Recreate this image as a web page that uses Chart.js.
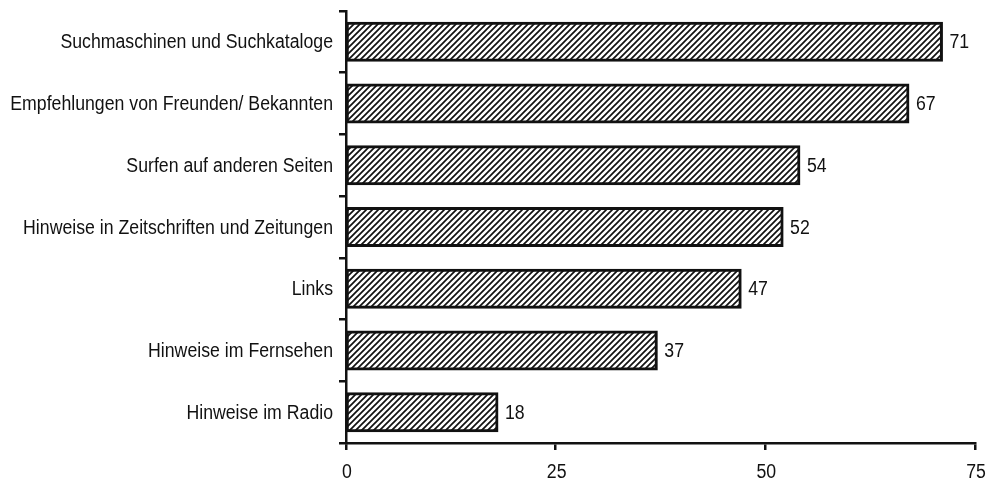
<!DOCTYPE html>
<html>
<head>
<meta charset="utf-8">
<script src="https://cdn.jsdelivr.net/npm/chart.js@4.4.1/dist/chart.umd.min.js"></script>
<style>
  html, body { margin: 0; padding: 0; background: #fff; }
  #wrap { width: 991px; height: 485px; }
</style>
</head>
<body>
<div id="wrap"><canvas id="c" width="991" height="485"></canvas></div>
<script>
const categories = [
  'Suchmaschinen und Suchkataloge',
  'Empfehlungen von Freunden/ Bekannten',
  'Surfen auf anderen Seiten',
  'Hinweise in Zeitschriften und Zeitungen',
  'Links',
  'Hinweise im Fernsehen',
  'Hinweise im Radio'
];
const values = [71, 67, 54, 52, 47, 37, 18];
const xTicks = [0, 25, 50, 75];

const FONT = "'Liberation Sans', Arial, sans-serif";
const FONT_SIZE = 20;
const NARROW = 0.885; // horizontal squeeze for a condensed look

// diagonal hatch fill
function hatch() {
  const s = 6;
  const t = document.createElement('canvas');
  t.width = s; t.height = s;
  const g = t.getContext('2d');
  g.fillStyle = '#fff';
  g.fillRect(0, 0, s, s);
  g.strokeStyle = '#111';
  g.lineWidth = 1.7;
  g.beginPath();
  g.moveTo(-1, s + 1); g.lineTo(s + 1, -1);
  g.moveTo(-1 - s, s + 1); g.lineTo(1, -1);
  g.moveTo(s - 1, s + 1); g.lineTo(2 * s + 1, -1);
  g.stroke();
  return document.getElementById('c').getContext('2d').createPattern(t, 'repeat');
}

function narrowText(ctx, text, x, y, align) {
  ctx.save();
  ctx.translate(x, y);
  ctx.scale(NARROW, 1);
  ctx.textAlign = align;
  ctx.fillText(text, 0, 0);
  ctx.restore();
}

// axis labels and value labels in a condensed face
const textLayer = {
  id: 'textLayer',
  afterDraw(chart) {
    const ctx = chart.ctx;
    const xs = chart.scales.x, ys = chart.scales.y;
    ctx.save();
    ctx.fillStyle = '#111';
    ctx.font = FONT_SIZE + 'px ' + FONT;
    ctx.textBaseline = 'middle';
    categories.forEach((c, i) => {
      narrowText(ctx, c, xs.left - 13, ys.getPixelForValue(i) + 1, 'right');
    });
    xTicks.forEach(v => {
      narrowText(ctx, String(v), xs.getPixelForValue(v) + 1, xs.top + 29, 'center');
    });
    chart.getDatasetMeta(0).data.forEach((bar, i) => {
      narrowText(ctx, String(values[i]), bar.x + 8, bar.y + 1, 'left');
    });
    ctx.restore();
  }
};

new Chart(document.getElementById('c'), {
  type: 'bar',
  data: {
    labels: categories,
    datasets: [{
      data: values,
      backgroundColor: hatch(),
      borderColor: '#111',
      borderWidth: 3,
      borderSkipped: false,
      inflateAmount: 1.5,
      barPercentage: 0.6,
      categoryPercentage: 1
    }]
  },
  options: {
    indexAxis: 'y',
    responsive: false,
    animation: false,
    devicePixelRatio: 1,
    layout: { padding: { top: 11, right: 16, left: 0, bottom: 0 } },
    plugins: { legend: { display: false }, tooltip: { enabled: false } },
    scales: {
      x: {
        min: 0, max: 75,
        afterBuildTicks(axis) { axis.ticks = xTicks.map(v => ({ value: v })); },
        afterFit(axis) { axis.height = 42; },
        border: { display: true, color: '#111', width: 2.5 },
        grid: { display: true, drawOnChartArea: false, drawTicks: true, tickLength: 7, color: '#111', lineWidth: 2.5 },
        ticks: { display: false }
      },
      y: {
        afterFit(axis) { axis.width = 346; },
        border: { display: true, color: '#111', width: 2.5 },
        grid: { display: true, offset: true, drawOnChartArea: false, drawTicks: true, tickLength: 7, color: '#111', lineWidth: 2.5 },
        ticks: { display: false }
      }
    }
  },
  plugins: [textLayer]
});
</script>
</body>
</html>
